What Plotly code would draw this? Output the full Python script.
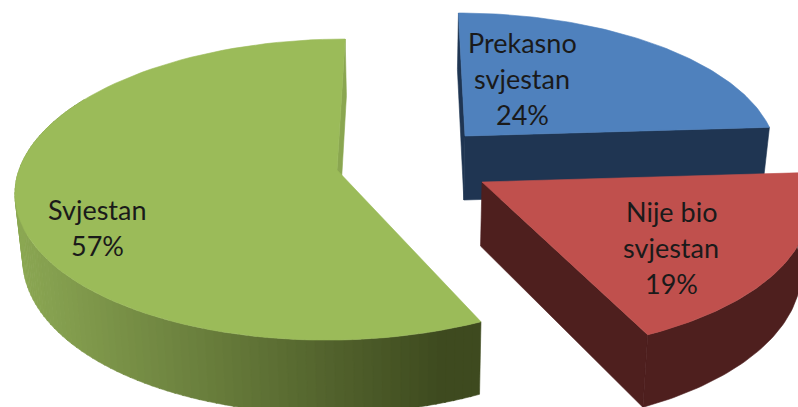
import numpy as np
import plotly.graph_objects as go

# --- data ---
categories = ["Prekasno svjestan", "Nije bio svjestan", "Svjestan"]
shares = [24, 19, 57]

# --- label layout (one row per slice: lines broken as in the picture) ---
label_lines = [["Prekasno", "svjestan"], ["Nije bio", "svjestan"], ["Svjestan"]]
label_x = [522, 671, 97]
label_y = [42, 211, 209]
LINE_STEP = 36

# --- styling ---
top_colors = ["#4F81BD", "#C0504D", "#9BBB59"]
side_colors = ["#1F3552", "#4E1F1E", "#8AA650"]
GRAD_LEFT = np.array([140, 168, 84])
GRAD_RIGHT = np.array([62, 74, 31])

# --- projection of each exploded slice (pixel space) ---
apex_x = [465, 482, 337]
apex_y = [136, 182, 170]
radius_x = [308, 323, 318]
radius_y = [139, 149, 148]
PERSP = 0.13
VANISH_X = 408
DEPTH = 64
DEPTH_SHRINK = 0.98


def project(i, deg, radial=1.0):
    t = np.radians(deg)
    X, Y = radial * np.sin(t), radial * np.cos(t)
    w = 1 + PERSP * Y
    x = VANISH_X + (apex_x[i] - VANISH_X + radius_x[i] * X) / w
    y = apex_y[i] - radius_y[i] * Y / w
    return x, y, w


def lower(i, deg, radial=1.0):
    x, y, w = project(i, deg, radial)
    return VANISH_X + (x - VANISH_X) * DEPTH_SHRINK, y + DEPTH / w


def poly(fig, xs, ys, color):
    fig.add_trace(go.Scatter(
        x=list(xs), y=list(ys), mode="lines", fill="toself", fillcolor=color,
        line=dict(color=color, width=0.6), hoverinfo="skip", showlegend=False))


def radial_face(fig, i, deg, color):
    x0, y0, _ = project(i, deg, 0.0)
    x1, y1, _ = project(i, deg, 1.0)
    x2, y2 = lower(i, deg, 1.0)
    x3, y3 = lower(i, deg, 0.0)
    poly(fig, [x0, x1, x2, x3, x0], [y0, y1, y2, y3, y0], color)


def top_face(fig, i, a, b):
    deg = np.linspace(a, b, 90)
    x, y, _ = project(i, deg)
    x0, y0, _ = project(i, 0.0, 0.0)
    poly(fig, [x0, *x, x0], [y0, *y, y0], top_colors[i])


fig = go.Figure()
edges = np.cumsum([0] + shares) * 3.6
start, end = edges[:-1], edges[1:]

# Blue slice (back)
radial_face(fig, 0, start[0], side_colors[0])
radial_face(fig, 0, end[0], side_colors[0])
top_face(fig, 0, start[0], end[0])

# Green slice: inner sliver, shaded rim, top
radial_face(fig, 2, end[2], side_colors[2])
steps = np.arange(start[2], 300, 1.5)
xmin, xmax = 14.0, 479.0
for a in steps:
    b = a + 1.7
    xa, ya, _ = project(2, a)
    xb, yb, _ = project(2, b)
    xc, yc = lower(2, b)
    xd, yd = lower(2, a)
    f = np.clip(((xa + xb) / 2 - xmin) / (xmax - xmin) / 0.92, 0, 1)
    c = GRAD_LEFT + (GRAD_RIGHT - GRAD_LEFT) * f
    poly(fig, [xa, xb, xc, xd, xa], [ya, yb, yc, yd, ya],
         "rgb(%d,%d,%d)" % tuple(c))
top_face(fig, 2, start[2], end[2])

# Red slice (front)
radial_face(fig, 1, end[1], side_colors[1])
deg = np.linspace(start[1], end[1], 70)
rx, ry, _ = project(1, deg)
lx, ly = lower(1, deg)
poly(fig, [*rx, *lx[::-1], rx[0]], [*ry, *ly[::-1], ry[0]], side_colors[1])
top_face(fig, 1, start[1], end[1])

# Labels
for lines, v, lx0, ly0 in zip(label_lines, shares, label_x, label_y):
    for k, txt in enumerate(lines + [f"{v}%"]):
        fig.add_annotation(x=lx0, y=ly0 + k * LINE_STEP, text=txt, showarrow=False,
                           xanchor="center", yanchor="middle",
                           font=dict(family="Lato", size=27, color="#1a1a1a"))

fig.update_layout(
    width=798, height=407, margin=dict(l=0, r=0, t=0, b=0),
    paper_bgcolor="white", plot_bgcolor="white", showlegend=False,
    xaxis=dict(range=[0, 798], visible=False, fixedrange=True),
    yaxis=dict(range=[407, 0], visible=False, fixedrange=True),
)
fig.write_html("out.html", config={"displayModeBar": False},
               post_script="document.body.style.margin='0';document.body.style.overflow='hidden';")
